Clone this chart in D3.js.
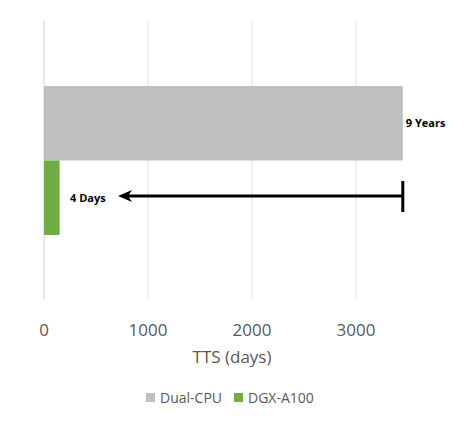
<!DOCTYPE html>
<html><head><meta charset="utf-8">
<script src="https://cdn.jsdelivr.net/npm/d3@7"></script>
<style>body{margin:0;background:#fff}text{font-family:"Open Sans",Arial,sans-serif}</style>
</head><body><svg id="c" width="474" height="435"></svg>
<script>
const categories = ["Dual-CPU","DGX-A100"];
const values = [3450, 150];
const colors = ["#bfbfbf","#70ad47"];
const barLabels = ["9 Years","4 Days"];
const ticks = [0,1000,2000,3000];

const svg = d3.select("#c");
const x = d3.scaleLinear().domain([0,3000]).range([44,356]);
const y = d3.scaleBand().domain(categories).range([86,235]).paddingInner(0);

svg.selectAll("line.g").data(ticks).enter().append("line")
  .attr("x1",d=>x(d)).attr("x2",d=>x(d)).attr("y1",20).attr("y2",300)
  .attr("stroke",d=>d===0?"#d0d0d0":"#e3e3e3").attr("stroke-width",1);

svg.selectAll("rect.b").data(categories).enter().append("rect")
  .attr("x",x(0)).attr("y",d=>y(d)).attr("height",y.bandwidth())
  .attr("width",(d,i)=>x(values[i])-x(0)).attr("fill",(d,i)=>colors[i]);

svg.selectAll("text.t").data(ticks).enter().append("text")
  .attr("x",d=>x(d)).attr("y",336).attr("text-anchor","middle")
  .attr("font-size",17).attr("fill","#595959").text(d=>d);

svg.append("text").attr("x",232).attr("y",363).attr("text-anchor","middle")
  .attr("font-size",17).attr("fill","#595959").text("TTS (days)");

// bar labels
svg.append("text").attr("x",x(values[0])+3).attr("y",y(categories[0])+y.bandwidth()/2+4)
  .attr("font-size",11).attr("font-weight","bold").text(barLabels[0]);
svg.append("text").attr("x",70).attr("y",y(categories[1])+y.bandwidth()/2+4)
  .attr("font-size",11).attr("font-weight","bold").text(barLabels[1]);

// arrow
const ay = 196, ax2 = x(values[0]), ax1 = 118;
svg.append("line").attr("x1",ax1+8).attr("x2",ax2).attr("y1",ay).attr("y2",ay)
  .attr("stroke","#000").attr("stroke-width",3);
svg.append("line").attr("x1",ax2).attr("x2",ax2).attr("y1",181).attr("y2",212)
  .attr("stroke","#000").attr("stroke-width",3);
svg.append("path").attr("d",`M${ax1},${ay} L${ax1+14},${ay-6} L${ax1+10},${ay} L${ax1+14},${ay+6} Z`).attr("fill","#000");

// legend
const lg = svg.append("g");
const lx=[146,234];
categories.forEach((c,i)=>{
  lg.append("rect").attr("x",lx[i]).attr("y",393).attr("width",9).attr("height",9).attr("fill",colors[i]);
  lg.append("text").attr("x",lx[i]+14).attr("y",403).attr("font-size",14).attr("fill","#595959").text(c);
});
</script></body></html>
